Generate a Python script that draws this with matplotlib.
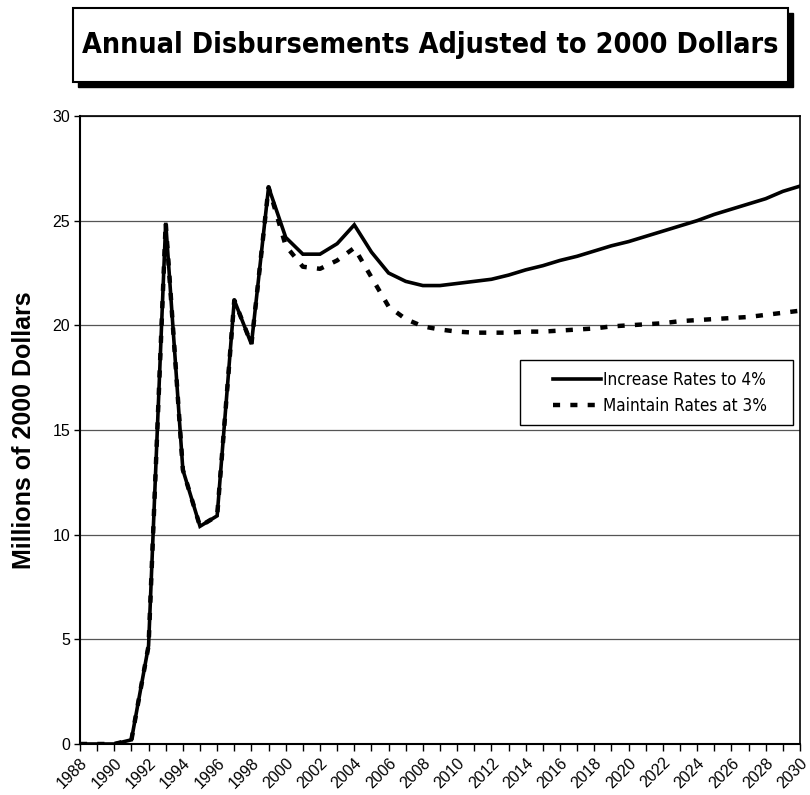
import matplotlib
matplotlib.use("Agg")
import matplotlib.pyplot as plt
from matplotlib import font_manager
from matplotlib.patches import Rectangle

years = list(range(1988, 2031))
increase_4 = [0, 0, 0, 0.2, 4.7, 24.9, 13.1, 10.4, 10.9, 21.2, 19.1, 26.6,
              24.2, 23.4, 23.4, 23.9, 24.8, 23.5, 22.5, 22.1, 21.9, 21.9,
              22.0, 22.1, 22.2, 22.4, 22.65, 22.85, 23.1, 23.3, 23.55, 23.8,
              24.0, 24.25, 24.5, 24.75, 25.0, 25.3, 25.55, 25.8, 26.05, 26.4,
              26.65]
maintain_3 = [0, 0, 0, 0.2, 4.7, 24.9, 13.1, 10.4, 10.9, 21.2, 19.1, 26.6,
              23.8, 22.8, 22.7, 23.1, 23.7, 22.3, 20.9, 20.3, 19.95, 19.8,
              19.7, 19.65, 19.65, 19.65, 19.7, 19.7, 19.75, 19.8, 19.85,
              19.95, 20.0, 20.05, 20.1, 20.2, 20.25, 20.3, 20.35, 20.4, 20.5,
              20.6, 20.7]
series_labels = ["Increase Rates to 4%", "Maintain Rates at 3%"]
title = "Annual Disbursements Adjusted to 2000 Dollars"
ylabel = "Millions of 2000 Dollars"

names = {f.name for f in font_manager.fontManager.ttflist}
base = "Liberation Sans" if "Liberation Sans" in names else "DejaVu Sans"
plt.rcParams["font.family"] = [base, "DejaVu Sans"]

# look for a condensed / narrow face (the original uses one)
cond_bold = None
cond_reg = None
for f in font_manager.fontManager.ttflist:
    fn = f.fname.lower()
    if "narrow" in fn or "condensed" in fn:
        if "bold" in fn and "oblique" not in fn and "italic" not in fn:
            cond_bold = cond_bold or f.fname
        elif "bold" not in fn and "oblique" not in fn and "italic" not in fn:
            cond_reg = cond_reg or f.fname

fig = plt.figure(figsize=(8.1, 7.95), dpi=100)
ax = fig.add_axes([80 / 810, 1 - 744 / 795, 720 / 810, 628 / 795])

ax.plot(years, increase_4, color="black", lw=2.6, solid_joinstyle="miter",
        label=series_labels[0], zorder=3)
ax.plot(years, maintain_3, color="black", lw=3.2, dashes=(1.6, 2.3),
        dash_capstyle="butt", label=series_labels[1], zorder=4)

ax.set_xlim(1988, 2030)
ax.set_ylim(0, 30)
ax.set_yticks(range(0, 31, 5))
ax.set_xticks(range(1988, 2031, 2))
ax.set_xticks(range(1988, 2031, 1), minor=True)
ax.set_xticklabels([str(y) for y in range(1988, 2031, 2)], rotation=45,
                   ha="right", rotation_mode="anchor", fontsize=11.5)
ax.tick_params(axis="x", which="both", direction="out", length=5, width=1,
               pad=3)
ax.tick_params(axis="y", direction="out", length=4, width=1, labelsize=11.5,
               pad=3)
ax.yaxis.grid(True, color="#555555", lw=0.9)
ax.set_axisbelow(True)
for s in ax.spines.values():
    s.set_linewidth(1.2)
ax.spines["left"].set_linewidth(1.5)
ax.spines["bottom"].set_linewidth(1.5)
ax.set_ylabel(ylabel, fontsize=18, fontweight="bold", labelpad=12)

# legend: frame drawn separately to match the wide left margin
ax.add_patch(Rectangle(((520 - 80) / 720, (744 - 425) / 628), 273 / 720,
                       65 / 628, transform=ax.transAxes, facecolor="white",
                       edgecolor="black", lw=1.0, zorder=5))
if cond_reg:
    leg_prop = font_manager.FontProperties(fname=cond_reg, size=12.3)
else:
    leg_prop = font_manager.FontProperties(family=base, size=12)
leg = ax.legend(loc="center left", bbox_to_anchor=((553 - 80) / 720, (744 - 393) / 628),
                frameon=False, handlelength=2.8, handletextpad=0.1,
                borderpad=0, borderaxespad=0, labelspacing=0.45,
                prop=leg_prop)
leg.set_zorder(6)

# title box with drop shadow
bx, by, bw, bh = 73 / 810, 1 - 82 / 795, 715 / 810, 74 / 795
fig.patches.append(Rectangle((bx + 5 / 810, by - 5 / 795), bw, bh,
                             transform=fig.transFigure, facecolor="black",
                             edgecolor="black", zorder=1))
fig.patches.append(Rectangle((bx, by), bw, bh, transform=fig.transFigure,
                             facecolor="white", edgecolor="black", lw=1.5,
                             zorder=2))
if cond_bold:
    tprop = font_manager.FontProperties(fname=cond_bold, size=26)
else:
    tprop = font_manager.FontProperties(family=base, weight="bold", size=26)
t = fig.text(bx + bw / 2, by + bh / 2, title, ha="center", va="center",
             fontproperties=tprop, zorder=3)
# fit the title to the width it takes in the original
fig.canvas.draw()
w = t.get_window_extent().width
if w > 697:
    tprop.set_size(26 * 697 / w)
    t.set_fontproperties(tprop)

fig.savefig("out.png", dpi=100)
